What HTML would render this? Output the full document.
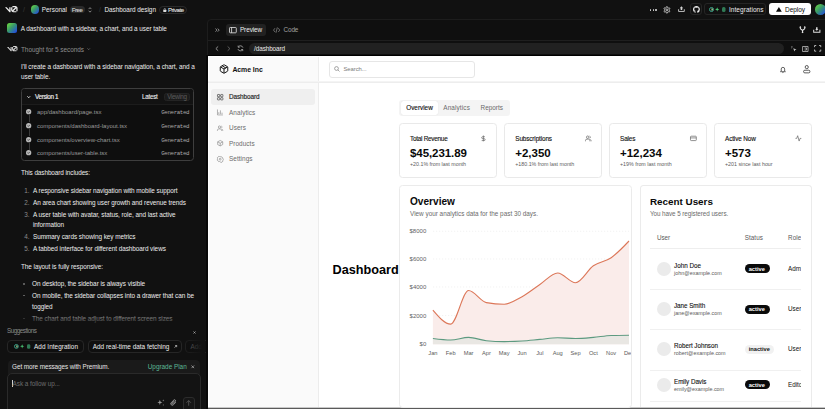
<!DOCTYPE html>
    <html><head><meta charset="utf-8"><style>
    html,body{margin:0;padding:0;}
    body{width:825px;height:409px;overflow:hidden;position:relative;background:#111111;font-family:"Liberation Sans",sans-serif;}
    .t{position:absolute;white-space:nowrap;}
    .b{position:absolute;}
    .i{position:absolute;overflow:visible;}
    </style></head><body>
    <svg class="i" style="left:4.8px;top:6.4px;color:#ededed" width="12.6" height="6.5" viewBox="0 0 40 20"><path fill="currentColor" d="M23.39 0H32.92C36.78 0 39.91 3.13 39.91 6.99V16.08H36V6.99C36 6.9 36 6.81 35.99 6.72L26.46 16.08C26.49 16.08 26.53 16.08 26.56 16.08H36V19.78H26.56C22.7 19.78 19.48 16.61 19.48 12.75V3.69H23.39V12.75C23.39 12.93 23.41 13.1 23.43 13.27L33.17 3.7C33.09 3.69 33 3.69 32.92 3.69H23.39V0Z"/><path fill="currentColor" d="M13.77 19.1L0 3.69H5.54L13.62 12.73V3.69H17.75V17.57C17.75 19.67 15.17 20.66 13.77 19.1Z"/></svg>
<div class="t" style="left:23px;top:5px;font-size:7px;line-height:9.1px;color:#3a3a3a;font-weight:400;">/</div>
<div class="b" style="left:30.6px;top:5.4px;width:8.80px;height:8.80px;border-radius:50%;background:linear-gradient(135deg,#6fe03a 0%,#3a9a6a 45%,#2040f5 100%)"></div>
<div class="t" style="left:41.8px;top:6px;font-size:6.4px;line-height:8.32px;color:#ededed;font-weight:400;letter-spacing:-0.008px;">Personal</div>
<div class="b" style="left:70px;top:6.1px;width:14.60px;height:7.10px;border-radius:4px;background:#2a2a2a"></div>
<div class="t" style="left:57.10px;width:40px;text-align:center;top:7px;font-size:6.0px;line-height:7.8px;color:#d5d5d5;font-weight:400;letter-spacing:-0.359px;-webkit-text-stroke:0.1px #d5d5d5">Free</div>
<svg class="i" style="left:88.2px;top:6.8px;" width="4" height="5.8" viewBox="0 0 8 12"><path d="M1.2 4.3L4 1.3L6.8 4.3M1.2 7.7L4 10.7L6.8 7.7" fill="none" stroke="#b0b0b0" stroke-width="1.5"/></svg>
<div class="t" style="left:99px;top:5px;font-size:7px;line-height:9.1px;color:#3a3a3a;font-weight:400;">/</div>
<div class="t" style="left:104.5px;top:6px;font-size:6.4px;line-height:8.32px;color:#ededed;font-weight:400;letter-spacing:-0.028px;">Dashboard design</div>
<div class="b" style="left:159px;top:5.5px;width:28.00px;height:8.50px;border-radius:5px;border:1px solid #2a2a2a;box-sizing:border-box"></div>
<svg class="i" style="left:162.8px;top:7.6px;" width="3.6" height="4.2" viewBox="0 0 6 7"><rect x="0.5" y="3" width="5" height="3.8" rx="0.6" fill="#dcdcdc"/><path d="M1.6 3.2V2.2a1.4 1.4 0 0 1 2.8 0v1" fill="none" stroke="#dcdcdc" stroke-width="0.9"/></svg>
<div class="t" style="left:167.9px;top:7px;font-size:6.0px;line-height:7.8px;color:#e0e0e0;font-weight:400;letter-spacing:-0.425px;-webkit-text-stroke:0.1px #e0e0e0">Private</div>
<div class="b" style="left:649.8000000000001px;top:9.0px;width:1.60px;height:1.60px;border-radius:50%;background:#cfcfcf"></div>
<div class="b" style="left:652.5px;top:9.0px;width:1.60px;height:1.60px;border-radius:50%;background:#cfcfcf"></div>
<div class="b" style="left:655.2px;top:9.0px;width:1.60px;height:1.60px;border-radius:50%;background:#cfcfcf"></div>
<svg class="i" style="left:663.3px;top:5.6px;" width="7.8" height="7.8" viewBox="0 0 24 24"><path fill="none" stroke="#dedede" stroke-width="2.6" d="M12.22 2h-.44a2 2 0 0 0-2 2v.18a2 2 0 0 1-1 1.73l-.43.25a2 2 0 0 1-2 0l-.15-.08a2 2 0 0 0-2.73.73l-.22.38a2 2 0 0 0 .73 2.73l.15.1a2 2 0 0 1 1 1.72v.51a2 2 0 0 1-1 1.74l-.15.09a2 2 0 0 0-.73 2.73l.22.38a2 2 0 0 0 2.73.73l.15-.08a2 2 0 0 1 2 0l.43.25a2 2 0 0 1 1 1.73V20a2 2 0 0 0 2 2h.44a2 2 0 0 0 2-2v-.18a2 2 0 0 1 1-1.73l.43-.25a2 2 0 0 1 2 0l.15.08a2 2 0 0 0 2.73-.73l.22-.39a2 2 0 0 0-.73-2.73l-.15-.08a2 2 0 0 1-1-1.74v-.5a2 2 0 0 1 1-1.74l.15-.09a2 2 0 0 0 .73-2.73l-.22-.38a2 2 0 0 0-2.73-.73l-.15.08a2 2 0 0 1-2 0l-.43-.25a2 2 0 0 1-1-1.73V4a2 2 0 0 0-2-2z"/><circle cx="12" cy="12" r="3" fill="none" stroke="#dedede" stroke-width="2.6"/></svg>
<svg class="i" style="left:677.9px;top:6.4px;" width="6.9" height="6.0" viewBox="0 0 14 12"><path d="M7 0.5L10.5 4.5H8.6V8H5.4V4.5H3.5Z" fill="#d0d0d0"/><path d="M1.2 6.5V11H12.8V6.5" fill="none" stroke="#d0d0d0" stroke-width="1.8"/></svg>
<div class="b" style="left:689.7px;top:3.3px;width:12.30px;height:12.20px;border-radius:3px;border:1px solid #252525;box-sizing:border-box"></div>
<svg class="i" style="left:692.5px;top:5.9px;" width="6.9" height="6.9" viewBox="0 0 16 16"><path fill="#ededed" d="M8 0C3.58 0 0 3.58 0 8c0 3.54 2.29 6.53 5.47 7.59.4.07.55-.17.55-.38 0-.19-.01-.82-.01-1.49-2.01.37-2.53-.49-2.69-.94-.09-.23-.48-.94-.82-1.13-.28-.15-.68-.52-.01-.53.63-.01 1.08.58 1.23.82.72 1.21 1.87.87 2.33.66.07-.52.28-.87.51-1.07-1.78-.2-3.64-.89-3.64-3.95 0-.87.31-1.59.82-2.15-.08-.2-.36-1.02.08-2.12 0 0 .67-.21 2.2.82.64-.18 1.32-.27 2-.27.68 0 1.36.09 2 .27 1.53-1.04 2.2-.82 2.2-.82.44 1.1.16 1.92.08 2.12.51.56.82 1.27.82 2.15 0 3.07-1.87 3.75-3.65 3.95.29.25.54.73.54 1.48 0 1.07-.01 1.93-.01 2.2 0 .21.15.46.55.38A8.013 8.013 0 0016 8c0-4.42-3.58-8-8-8z"/></svg>
<div class="b" style="left:704.4px;top:3.3px;width:61.70px;height:12.20px;border-radius:3px;border:1px solid #252525;box-sizing:border-box"></div>
<svg class="i" style="left:708.8px;top:7.0px;" width="5" height="5" viewBox="0 0 10 10"><circle cx="5" cy="5" r="4" fill="none" stroke="#3aa38a" stroke-width="2"/><path d="M5 2.5A2.5 2.5 0 0 1 5 7.5Z" fill="#bfe3a0"/></svg>
<svg class="i" style="left:715.1px;top:7.2px;" width="4.4" height="4.8" viewBox="0 0 10 10"><path d="M5 0L6.3 3.7 10 5 6.3 6.3 5 10 3.7 6.3 0 5 3.7 3.7Z" fill="#49c774"/></svg>
<svg class="i" style="left:721.7px;top:7.0px;" width="3.5" height="5.2" viewBox="0 0 7 10"><rect x="0" y="0" width="7" height="10" rx="3" fill="#2f7a55"/></svg>
<div class="t" style="left:729px;top:6px;font-size:6.5px;line-height:8.45px;color:#ededed;font-weight:400;letter-spacing:0.044px;">Integrations</div>
<div class="b" style="left:769px;top:3.3px;width:42.30px;height:12.20px;border-radius:3px;background:#ffffff"></div>
<svg class="i" style="left:775.9px;top:7.3px;" width="5.8" height="4.9" viewBox="0 0 12 10"><path d="M6 0L12 10H0Z" fill="#0a0a0a"/></svg>
<div class="t" style="left:785.1px;top:6px;font-size:6.5px;line-height:8.45px;color:#0a0a0a;font-weight:400;letter-spacing:-0.072px;">Deploy</div>
<div class="b" style="left:814.6px;top:4.1px;width:11.00px;height:11.00px;border-radius:50%;background:linear-gradient(135deg,#6fe03a 0%,#3a9a6a 45%,#2040f5 100%)"></div>
<div class="b" style="left:7px;top:23px;width:10.10px;height:10.30px;border-radius:2.5px;background:linear-gradient(135deg,#6fe03a 0%,#3a9a6a 45%,#2040f5 100%)"></div>
<div class="t" style="left:20.8px;top:25px;font-size:6.4px;line-height:8.32px;color:#ededed;font-weight:400;letter-spacing:-0.061px;">A dashboard with a sidebar, a chart, and a user table</div>
<svg class="i" style="left:7px;top:46.2px;color:#d8d8d8" width="10.5" height="5.4" viewBox="0 0 40 20"><path fill="currentColor" d="M23.39 0H32.92C36.78 0 39.91 3.13 39.91 6.99V16.08H36V6.99C36 6.9 36 6.81 35.99 6.72L26.46 16.08C26.49 16.08 26.53 16.08 26.56 16.08H36V19.78H26.56C22.7 19.78 19.48 16.61 19.48 12.75V3.69H23.39V12.75C23.39 12.93 23.41 13.1 23.43 13.27L33.17 3.7C33.09 3.69 33 3.69 32.92 3.69H23.39V0Z"/><path fill="currentColor" d="M13.77 19.1L0 3.69H5.54L13.62 12.73V3.69H17.75V17.57C17.75 19.67 15.17 20.66 13.77 19.1Z"/></svg>
<div class="t" style="left:21px;top:46px;font-size:6.4px;line-height:8.32px;color:#8f8f8f;font-weight:400;letter-spacing:-0.033px;">Thought for 5 seconds</div>
<svg class="i" style="left:87.4px;top:48px;" width="3.4" height="2.2" viewBox="0 0 6 4"><path d="M0.7 0.7L3 3L5.3 0.7" fill="none" stroke="#8f8f8f" stroke-width="1"/></svg>
<div class="t" style="left:21px;top:63px;font-size:6.4px;line-height:8.32px;color:#ededed;font-weight:400;letter-spacing:-0.057px;">I&#39;ll create a dashboard with a sidebar navigation, a chart, and a</div>
<div class="t" style="left:21px;top:73px;font-size:6.4px;line-height:8.32px;color:#ededed;font-weight:400;letter-spacing:-0.06px;">user table.</div>
<div class="b" style="left:20.6px;top:88.4px;width:173.30px;height:72.60px;border-radius:3.5px;border:1px solid #3e3e3e;box-sizing:border-box;background:#0e0e0e"></div>
<div class="b" style="left:21.6px;top:89.4px;width:171.30px;height:15.60px;border-radius:2.5px 2.5px 0 0;background:#121212;border-bottom:1px solid #1c1c1c;box-sizing:border-box"></div>
<svg class="i" style="left:27.1px;top:95.9px;" width="3.5" height="2.2" viewBox="0 0 6 4"><path d="M0.5 0.5L3 3.2L5.5 0.5" fill="none" stroke="#ededed" stroke-width="1.6"/></svg>
<div class="t" style="left:35px;top:93px;font-size:6.3px;line-height:8.19px;color:#ededed;font-weight:400;letter-spacing:-0.352px;-webkit-text-stroke:0.15px #ededed">Version 1</div>
<div class="t" style="left:142px;top:93px;font-size:6.3px;line-height:8.19px;color:#ededed;font-weight:400;letter-spacing:-0.260px;-webkit-text-stroke:0.1px #ededed">Latest</div>
<div class="b" style="left:164.1px;top:92.5px;width:25.60px;height:8.50px;border-radius:2.5px;background:#1b1b1b;border:1px solid #242424;box-sizing:border-box"></div>
<div class="t" style="left:156.90px;width:40px;text-align:center;top:93px;font-size:6.3px;line-height:8.19px;color:#5c5c5c;font-weight:400;letter-spacing:-0.378px;">Viewing</div>
<div class="b" style="left:28.6px;top:115.10000000000001px;width:0.70px;height:7.30px;background:#3a3a3a"></div>
<svg class="i" style="left:26.2px;top:109.25px;" width="5.3" height="5.3" viewBox="0 0 10 10"><circle cx="5" cy="5" r="5" fill="#b8b8b8"/><path d="M2.9 5.1L4.4 6.5L7.1 3.6" fill="none" stroke="#111" stroke-width="1.2"/></svg>
<div class="t" style="left:37px;top:109px;font-size:6.0px;line-height:7.8px;color:#9a9a9a;font-weight:400;">app/dashboard/page.tsx</div>
<div class="t" style="right:635.80px;top:109px;font-size:5.8px;line-height:7.54px;color:#a8a8a8;font-weight:400;font-family:'Liberation Mono',monospace;letter-spacing:-0.37px;">Generated</div>
<div class="b" style="left:28.6px;top:128.79999999999998px;width:0.70px;height:7.30px;background:#3a3a3a"></div>
<svg class="i" style="left:26.2px;top:122.94999999999999px;" width="5.3" height="5.3" viewBox="0 0 10 10"><circle cx="5" cy="5" r="5" fill="#b8b8b8"/><path d="M2.9 5.1L4.4 6.5L7.1 3.6" fill="none" stroke="#111" stroke-width="1.2"/></svg>
<div class="t" style="left:37px;top:123px;font-size:6.0px;line-height:7.8px;color:#9a9a9a;font-weight:400;">components/dashboard-layout.tsx</div>
<div class="t" style="right:635.80px;top:123px;font-size:5.8px;line-height:7.54px;color:#a8a8a8;font-weight:400;font-family:'Liberation Mono',monospace;letter-spacing:-0.37px;">Generated</div>
<div class="b" style="left:28.6px;top:142.5px;width:0.70px;height:7.30px;background:#3a3a3a"></div>
<svg class="i" style="left:26.2px;top:136.65px;" width="5.3" height="5.3" viewBox="0 0 10 10"><circle cx="5" cy="5" r="5" fill="#b8b8b8"/><path d="M2.9 5.1L4.4 6.5L7.1 3.6" fill="none" stroke="#111" stroke-width="1.2"/></svg>
<div class="t" style="left:37px;top:137px;font-size:6.0px;line-height:7.8px;color:#9a9a9a;font-weight:400;">components/overview-chart.tsx</div>
<div class="t" style="right:635.80px;top:137px;font-size:5.8px;line-height:7.54px;color:#a8a8a8;font-weight:400;font-family:'Liberation Mono',monospace;letter-spacing:-0.37px;">Generated</div>
<svg class="i" style="left:26.2px;top:150.35px;" width="5.3" height="5.3" viewBox="0 0 10 10"><circle cx="5" cy="5" r="5" fill="#b8b8b8"/><path d="M2.9 5.1L4.4 6.5L7.1 3.6" fill="none" stroke="#111" stroke-width="1.2"/></svg>
<div class="t" style="left:37px;top:150px;font-size:6.0px;line-height:7.8px;color:#9a9a9a;font-weight:400;">components/user-table.tsx</div>
<div class="t" style="right:635.80px;top:150px;font-size:5.8px;line-height:7.54px;color:#a8a8a8;font-weight:400;font-family:'Liberation Mono',monospace;letter-spacing:-0.37px;">Generated</div>
<div class="t" style="left:21px;top:169px;font-size:6.4px;line-height:8.32px;color:#ededed;font-weight:400;letter-spacing:-0.090px;">This dashboard includes:</div>
<div class="t" style="left:24.3px;top:187px;font-size:6.4px;line-height:8.32px;color:#8a8a8a;font-weight:400;">1.</div>
<div class="t" style="left:33px;top:187px;font-size:6.4px;line-height:8.32px;color:#ededed;font-weight:400;letter-spacing:-0.05px;">A responsive sidebar navigation with mobile support</div>
<div class="t" style="left:24.3px;top:199px;font-size:6.4px;line-height:8.32px;color:#8a8a8a;font-weight:400;">2.</div>
<div class="t" style="left:33px;top:199px;font-size:6.4px;line-height:8.32px;color:#ededed;font-weight:400;letter-spacing:-0.05px;">An area chart showing user growth and revenue trends</div>
<div class="t" style="left:24.3px;top:211px;font-size:6.4px;line-height:8.32px;color:#8a8a8a;font-weight:400;">3.</div>
<div class="t" style="left:33px;top:211px;font-size:6.4px;line-height:8.32px;color:#ededed;font-weight:400;letter-spacing:-0.05px;">A user table with avatar, status, role, and last active</div>
<div class="t" style="left:33px;top:221px;font-size:6.4px;line-height:8.32px;color:#ededed;font-weight:400;letter-spacing:-0.05px;">information</div>
<div class="t" style="left:24.3px;top:233px;font-size:6.4px;line-height:8.32px;color:#8a8a8a;font-weight:400;">4.</div>
<div class="t" style="left:33px;top:233px;font-size:6.4px;line-height:8.32px;color:#ededed;font-weight:400;letter-spacing:-0.05px;">Summary cards showing key metrics</div>
<div class="t" style="left:24.3px;top:245px;font-size:6.4px;line-height:8.32px;color:#8a8a8a;font-weight:400;">5.</div>
<div class="t" style="left:33px;top:245px;font-size:6.4px;line-height:8.32px;color:#ededed;font-weight:400;letter-spacing:-0.05px;">A tabbed interface for different dashboard views</div>
<div class="t" style="left:21px;top:263px;font-size:6.4px;line-height:8.32px;color:#ededed;font-weight:400;letter-spacing:-0.06px;">The layout is fully responsive:</div>
<div class="b" style="left:23.3px;top:283.15px;width:1.60px;height:1.60px;border-radius:50%;background:#6a6a6a"></div>
<div class="t" style="left:32px;top:280px;font-size:6.4px;line-height:8.32px;color:#ededed;font-weight:400;letter-spacing:-0.05px;">On desktop, the sidebar is always visible</div>
<div class="b" style="left:23.3px;top:294.9px;width:1.60px;height:1.60px;border-radius:50%;background:#6a6a6a"></div>
<div class="t" style="left:32px;top:292px;font-size:6.4px;line-height:8.32px;color:#ededed;font-weight:400;letter-spacing:-0.05px;">On mobile, the sidebar collapses into a drawer that can be</div>
<div class="t" style="left:32px;top:303px;font-size:6.4px;line-height:8.32px;color:#ededed;font-weight:400;letter-spacing:-0.05px;">toggled</div>
<div class="b" style="left:23.3px;top:317.65px;width:1.60px;height:1.60px;border-radius:50%;background:#6a6a6a"></div>
<div class="t" style="left:32px;top:315px;font-size:6.4px;line-height:8.32px;color:#ededed;font-weight:400;letter-spacing:-0.05px;">The chart and table adjust to different screen sizes</div>
<div class="b" style="left:0px;top:310px;width:205.00px;height:16.00px;background:linear-gradient(to bottom,rgba(17,17,17,0) 0%,rgba(17,17,17,0.55) 50%,#111 100%)"></div>
<div class="b" style="left:0px;top:326px;width:205.00px;height:83.00px;background:#111"></div>
<div class="t" style="left:6.9px;top:327px;font-size:6.3px;line-height:8.19px;color:#8a8a8a;font-weight:400;letter-spacing:-0.461px;">Suggestions</div>
<svg class="i" style="left:193.2px;top:330.6px;" width="3" height="3" viewBox="0 0 6 6"><path d="M0.8 0.8L5.2 5.2M5.2 0.8L0.8 5.2" stroke="#cfcfcf" stroke-width="1.1"/></svg>
<div class="b" style="left:7.25px;top:340.25px;width:76.25px;height:12.50px;border-radius:4px;border:1px solid #262626;box-sizing:border-box;background:#0f0f0f"></div>
<svg class="i" style="left:14px;top:344.1px;" width="4.8" height="4.8" viewBox="0 0 10 10"><circle cx="5" cy="5" r="4" fill="none" stroke="#3aa38a" stroke-width="2"/><path d="M5 2.5A2.5 2.5 0 0 1 5 7.5Z" fill="#bfe3a0"/></svg>
<svg class="i" style="left:20.4px;top:344.2px;" width="4.3" height="4.6" viewBox="0 0 10 10"><path d="M5 0L6.3 3.7 10 5 6.3 6.3 5 10 3.7 6.3 0 5 3.7 3.7Z" fill="#49c774"/></svg>
<svg class="i" style="left:26.8px;top:344px;" width="3.3" height="5" viewBox="0 0 7 10"><rect x="0" y="0" width="7" height="10" rx="3" fill="#2f7a55"/></svg>
<div class="t" style="left:34px;top:343px;font-size:6.4px;line-height:8.32px;color:#ededed;font-weight:400;letter-spacing:0.046px;">Add Integration</div>
<div class="b" style="left:87.5px;top:340.25px;width:94.25px;height:12.50px;border-radius:4px;border:1px solid #262626;box-sizing:border-box;background:#0f0f0f"></div>
<div class="t" style="left:92.75px;top:343px;font-size:6.4px;line-height:8.32px;color:#ededed;font-weight:400;letter-spacing:0.010px;">Add real-time data fetching</div>
<svg class="i" style="left:173.6px;top:344.9px;" width="3.2" height="3.2" viewBox="0 0 6 6"><path d="M1 5L5 1M2 1H5V4" fill="none" stroke="#ededed" stroke-width="1.1"/></svg>
<div class="b" style="left:184.9px;top:340.25px;width:30.10px;height:12.50px;border-radius:4px;border:1px solid #1f1f1f;box-sizing:border-box;background:#0f0f0f"></div>
<div class="t" style="left:190.5px;top:343px;font-size:6.4px;line-height:8.32px;color:#6a6a6a;font-weight:400;">Add</div>
<div class="b" style="left:186px;top:338px;width:19.00px;height:17.00px;background:linear-gradient(to right,rgba(17,17,17,0),#111 85%)"></div>
<div class="b" style="left:7.75px;top:360px;width:192.50px;height:20.00px;border-radius:4.5px 4.5px 0 0;background:#1a1a1a"></div>
<div class="t" style="left:12.1px;top:363px;font-size:6.4px;line-height:8.32px;color:#e5e5e5;font-weight:400;letter-spacing:-0.090px;">Get more messages with Premium.</div>
<div class="t" style="left:147.75px;top:363px;font-size:6.4px;line-height:8.32px;color:#5cb896;font-weight:400;letter-spacing:-0.012px;">Upgrade Plan</div>
<svg class="i" style="left:191.1px;top:364.7px;" width="3.6" height="3.6" viewBox="0 0 6 6"><path d="M0.8 0.8L5.2 5.2M5.2 0.8L0.8 5.2" stroke="#bdbdbd" stroke-width="1.1"/></svg>
<div class="b" style="left:7.25px;top:373.25px;width:193.25px;height:46.75px;border-radius:5px;border:1px solid #2a2a2a;box-sizing:border-box;background:#131313"></div>
<div class="b" style="left:12.1px;top:379.8px;width:0.60px;height:7.00px;background:#cfcfcf"></div>
<div class="t" style="left:12.6px;top:380px;font-size:6.4px;line-height:8.32px;color:#6e6e6e;font-weight:400;letter-spacing:-0.06px;">Ask a follow up...</div>
<svg class="i" style="left:156.6px;top:399.3px;" width="8" height="7.4" viewBox="0 0 14 13"><path d="M5 1.5L6.2 4.8 9.5 6 6.2 7.2 5 10.5 3.8 7.2 0.5 6 3.8 4.8Z" fill="#9a9a9a"/><path d="M11 0.5L11.5 2 13 2.5 11.5 3 11 4.5 10.5 3 9 2.5 10.5 2Z M11 9L11.4 10.1 12.5 10.5 11.4 10.9 11 12 10.6 10.9 9.5 10.5 10.6 10.1Z" fill="#8a8a8a"/></svg>
<svg class="i" style="left:169.9px;top:399.2px;" width="6.9" height="7.4" viewBox="0 0 14 15"><path d="M12 6.5L6.8 11.7A3 3 0 0 1 2.5 7.4L8 1.9A2 2 0 0 1 10.8 4.7L5.5 10A1 1 0 0 1 4.1 8.6L9 3.7" fill="none" stroke="#b5b5b5" stroke-width="1.6"/></svg>
<div class="b" style="left:183px;top:397.4px;width:12.00px;height:22.60px;border-radius:3px;border:1px solid #2c2c2c;box-sizing:border-box;background:#161616"></div>
<svg class="i" style="left:186.3px;top:400.3px;" width="5.4" height="6" viewBox="0 0 10 11"><path d="M5 10.5V1M1 5L5 1 9 5" fill="none" stroke="#6a6a6a" stroke-width="1.3"/></svg>
<div class="b" style="left:207px;top:19px;width:633.00px;height:401.00px;border-radius:4px 0 0 0;border:1px solid #1d1d1d;box-sizing:border-box;background:#0f0f0f"></div>
<svg class="i" style="left:214.9px;top:27.6px;" width="4.9" height="4.2" viewBox="0 0 10 8"><path d="M1 0.8L4 4L1 7.2M5.5 0.8L8.5 4L5.5 7.2" fill="none" stroke="#b5b5b5" stroke-width="1.5"/></svg>
<div class="b" style="left:226.2px;top:24px;width:39.40px;height:11.80px;border-radius:3px;background:#212121"></div>
<svg class="i" style="left:229px;top:26.7px;" width="7.8" height="6.3" viewBox="0 0 16 13"><rect x="1" y="1" width="14" height="11" rx="1.5" fill="none" stroke="#ededed" stroke-width="1.6"/><path d="M5.3 1V12" stroke="#ededed" stroke-width="1.6"/></svg>
<div class="t" style="left:239.9px;top:26px;font-size:6.4px;line-height:8.32px;color:#ededed;font-weight:400;letter-spacing:-0.066px;">Preview</div>
<svg class="i" style="left:272.9px;top:26.8px;" width="7.3" height="6.2" viewBox="0 0 15 13"><path d="M4 2.5L1 6.5 4 10.5M11 2.5L14 6.5 11 10.5M9 0.8L6 12.2" fill="none" stroke="#a1a1a1" stroke-width="1.3"/></svg>
<div class="t" style="left:283.5px;top:26px;font-size:6.4px;line-height:8.32px;color:#a1a1a1;font-weight:400;letter-spacing:-0.125px;">Code</div>
<svg class="i" style="left:799.2px;top:26.2px;" width="7.1" height="7.4" viewBox="0 0 14 15"><path d="M2.5 1.2V4.5C2.5 7 7 7.5 7 10V14M11.5 1.2V4.5C11.5 7 7 7.5 7 10" fill="none" stroke="#e0e0e0" stroke-width="2.3"/><path d="M0.3 2.8L2.5 0.3 4.7 2.8ZM9.3 2.8L11.5 0.3 13.7 2.8ZM4.8 12.2L7 14.7 9.2 12.2Z" fill="#e0e0e0"/></svg>
<svg class="i" style="left:812.7px;top:27.3px;" width="7.6" height="5.8" viewBox="0 0 14 11"><path d="M7 7L10 3.6H8.4V0.3H5.6V3.6H4Z" fill="#e0e0e0"/><path d="M1.1 5V9.9H12.9V5" fill="none" stroke="#e0e0e0" stroke-width="1.9"/></svg>
<div class="b" style="left:208px;top:40px;width:632.00px;height:1.00px;background:#1f1f1f"></div>
<svg class="i" style="left:214.6px;top:45.9px;" width="3.8" height="5.2" viewBox="0 0 6 8"><path d="M5 0.6L1.4 4L5 7.4" fill="none" stroke="#a8a8a8" stroke-width="1.3"/></svg>
<svg class="i" style="left:226.7px;top:45.9px;" width="3.8" height="5.2" viewBox="0 0 6 8"><path d="M1 0.6L4.6 4L1 7.4" fill="none" stroke="#6e6e6e" stroke-width="1.3"/></svg>
<svg class="i" style="left:237.1px;top:45.2px;" width="6.9" height="6.7" viewBox="0 0 14 14"><path d="M12.2 5.5A5.3 5.3 0 0 0 2.6 4.2M1.8 8.5A5.3 5.3 0 0 0 11.4 9.8" fill="none" stroke="#bdbdbd" stroke-width="1.5"/><path d="M2.2 1.2V4.6H5.6M11.8 12.8V9.4H8.4" fill="none" stroke="#bdbdbd" stroke-width="1.5"/></svg>
<div class="b" style="left:249.2px;top:42.7px;width:534.70px;height:11.30px;border-radius:6px;background:#212121"></div>
<div class="t" style="left:254.1px;top:45px;font-size:6.4px;line-height:8.32px;color:#ededed;font-weight:400;letter-spacing:-0.113px;">/dashboard</div>
<svg class="i" style="left:790.9px;top:45.5px;" width="5.8" height="5.8" viewBox="0 0 12 12"><path d="M4.5 4.5L11.5 7.2 8.5 8.5 7.2 11.5Z" fill="#bdbdbd"/><path d="M2 0.5V3M0.5 2H3M0.8 4.5L2.2 4" stroke="#bdbdbd" stroke-width="1"/></svg>
<svg class="i" style="left:801.9px;top:45.5px;" width="6.6" height="6.0" viewBox="0 0 13 12"><path d="M1 1H12V11H1Z M5 4H9V8H5" fill="none" stroke="#bdbdbd" stroke-width="1.6"/></svg>
<svg class="i" style="left:813.7px;top:45px;" width="7.3" height="6.7" viewBox="0 0 14 13"><path d="M1 4.2V1H4.2M9.8 1H13V4.2M13 8.8V12H9.8M4.2 12H1V8.8" fill="none" stroke="#bdbdbd" stroke-width="1.8"/></svg>
<div class="b" style="left:208px;top:55px;width:632.00px;height:1.00px;background:#000"></div>
<div class="b" style="left:206px;top:55px;width:2.00px;height:354.00px;background:#080808"></div>
<div class="b" style="left:208px;top:56px;width:617.00px;height:352.00px;background:#ffffff"></div>
<div class="b" style="left:209px;top:57px;width:109.00px;height:350.00px;background:#fafafa"></div>
<div class="b" style="left:318px;top:57px;width:1.00px;height:350.00px;background:#ececec"></div>
<div class="b" style="left:208px;top:81px;width:617.00px;height:1.00px;background:#f4f4f4"></div>
<div class="b" style="left:208px;top:82px;width:617.00px;height:1.00px;background:#ededed"></div>
<div class="b" style="left:208px;top:407px;width:617.00px;height:1.00px;background:#c8c8c8"></div>
<div class="b" style="left:208px;top:408px;width:617.00px;height:1.00px;background:#5a5a5a"></div>
<svg class="i" style="left:218.6px;top:63.9px;" width="10" height="10" viewBox="0 0 24 24"><path d="M21 8a2 2 0 0 0-1-1.73l-7-4a2 2 0 0 0-2 0l-7 4A2 2 0 0 0 3 8v8a2 2 0 0 0 1 1.73l7 4a2 2 0 0 0 2 0l7-4A2 2 0 0 0 21 16Z M3.3 7l8.7 5 8.7-5 M12 22V12 M7.5 4.3l9 5.2" fill="none" stroke="#111" stroke-width="2.4" stroke-linejoin="round"/></svg>
<div class="t" style="left:232.4px;top:66px;font-size:6.9px;line-height:8.97px;color:#111;font-weight:700;letter-spacing:-0.041px;">Acme Inc</div>
<div class="b" style="left:211.1px;top:89px;width:103.90px;height:15.50px;border-radius:3px;background:#efefef"></div>
<svg class="i" style="left:216.6px;top:93.7px;" width="6.4" height="6.4" viewBox="0 0 14 14"><g fill="none" stroke="#333" stroke-width="1.4"><rect x="1" y="1" width="5" height="5" rx="1.2"/><rect x="8" y="1" width="5" height="5" rx="1.2"/><rect x="1" y="8" width="5" height="5" rx="1.2"/><rect x="8" y="8" width="5" height="5" rx="1.2"/></g></svg>
<div class="t" style="left:229px;top:93px;font-size:6.4px;line-height:8.32px;color:#222;font-weight:400;letter-spacing:-0.090px;-webkit-text-stroke:0.15px #222">Dashboard</div>
<svg class="i" style="left:216.6px;top:109.1px;" width="6.4" height="6.4" viewBox="0 0 14 14"><g fill="none" stroke="#888" stroke-width="1.4"><path d="M1 1V13H13M4 11V7M7.5 11V3M11 11V8"/></g></svg>
<div class="t" style="left:229px;top:109px;font-size:6.4px;line-height:8.32px;color:#6b6b6b;font-weight:400;letter-spacing:0.088px;">Analytics</div>
<svg class="i" style="left:216.6px;top:124.8px;" width="6.4" height="6.4" viewBox="0 0 14 14"><g fill="none" stroke="#888" stroke-width="1.4"><circle cx="5.5" cy="4.5" r="2.5"/><path d="M1 13V11.5A3 3 0 0 1 4 8.5H7A3 3 0 0 1 10 11.5V13M9.5 2.2A2.5 2.5 0 0 1 9.5 6.8M12.5 13V11.5A3 3 0 0 0 11 9"/></g></svg>
<div class="t" style="left:229px;top:124px;font-size:6.4px;line-height:8.32px;color:#6b6b6b;font-weight:400;letter-spacing:0.06px;">Users</div>
<svg class="i" style="left:216.6px;top:140.3px;" width="6.4" height="6.4" viewBox="0 0 14 14"><g fill="none" stroke="#888" stroke-width="1.4"><path d="M7 1L12.5 4V10L7 13L1.5 10V4Z M1.5 4L7 7L12.5 4 M7 7V13"/></g></svg>
<div class="t" style="left:229px;top:140px;font-size:6.4px;line-height:8.32px;color:#6b6b6b;font-weight:400;letter-spacing:0.06px;">Products</div>
<svg class="i" style="left:216.6px;top:155.70000000000002px;" width="6.4" height="6.4" viewBox="0 0 14 14"><g fill="none" stroke="#888" stroke-width="1.4"><path d="M7 1l1.6 1 1.9-.2.9 1.7 1.7.9-.2 1.9 1 1.6-1 1.6.2 1.9-1.7.9-.9 1.7-1.9-.2L7 13l-1.6-1-1.9.2-.9-1.7-1.7-.9.2-1.9L0.1 7l1-1.6-.2-1.9 1.7-.9.9-1.7 1.9.2z"/><circle cx="7" cy="7" r="2"/></g></svg>
<div class="t" style="left:229px;top:155px;font-size:6.4px;line-height:8.32px;color:#6b6b6b;font-weight:400;letter-spacing:0.06px;">Settings</div>
<div class="b" style="left:329px;top:60.5px;width:145.75px;height:17.50px;border-radius:3px;border:1px solid #e6e6e6;box-sizing:border-box;background:#fff"></div>
<svg class="i" style="left:333.8px;top:65.6px;" width="6" height="6" viewBox="0 0 12 12"><circle cx="5" cy="5" r="3.8" fill="none" stroke="#777" stroke-width="1.3"/><path d="M7.8 7.8L11 11" stroke="#777" stroke-width="1.3"/></svg>
<div class="t" style="left:343.5px;top:66px;font-size:5.9px;line-height:7.67px;color:#7a7a7a;font-weight:400;letter-spacing:-0.068px;">Search...</div>
<svg class="i" style="left:779.7px;top:65.6px;" width="5.9" height="7.1" viewBox="0 0 12 14"><path d="M2.5 10V6A3.5 3.5 0 0 1 9.5 6V10L11 11.3H1L2.5 10Z M4.8 12.8A1.4 1.4 0 0 0 7.2 12.8" fill="none" stroke="#111" stroke-width="1.3" stroke-linejoin="round"/></svg>
<svg class="i" style="left:803.1px;top:65.1px;" width="7.5" height="8.4" viewBox="0 0 14 16"><circle cx="7" cy="4" r="3" fill="none" stroke="#222" stroke-width="1.4"/><rect x="1" y="10" width="12" height="5" rx="2.3" fill="none" stroke="#222" stroke-width="1.4"/></svg>
<div class="t" style="left:332.5px;top:262px;font-size:12.68px;line-height:16.48px;color:#000;font-weight:700;">Dashboard</div>
<div class="b" style="left:399.25px;top:99.5px;width:110.75px;height:16.75px;border-radius:3px;background:#f4f4f4"></div>
<div class="b" style="left:400.5px;top:101.25px;width:37.75px;height:13.75px;border-radius:2.5px;background:#fff;box-shadow:0 0 1px rgba(0,0,0,0.15)"></div>
<div class="t" style="left:406.2px;top:104px;font-size:6.4px;line-height:8.32px;color:#111;font-weight:400;letter-spacing:-0.009px;-webkit-text-stroke:0.12px #111">Overview</div>
<div class="t" style="left:443.25px;top:104px;font-size:6.4px;line-height:8.32px;color:#6b6b6b;font-weight:400;letter-spacing:0.127px;">Analytics</div>
<div class="t" style="left:480.5px;top:104px;font-size:6.4px;line-height:8.32px;color:#6b6b6b;font-weight:400;letter-spacing:0.013px;">Reports</div>
<div class="b" style="left:399px;top:123.25px;width:98.00px;height:55.00px;border-radius:3.5px;border:1px solid #e9e9e9;box-sizing:border-box;background:#fff"></div>
<div class="t" style="left:410px;top:135px;font-size:6.4px;line-height:8.32px;color:#111;font-weight:400;letter-spacing:-0.263px;-webkit-text-stroke:0.12px #111">Total Revenue</div>
<div class="t" style="left:410px;top:146px;font-size:11.5px;line-height:14.95px;color:#0a0a0a;font-weight:700;letter-spacing:-0.076px;">$45,231.89</div>
<div class="t" style="left:410px;top:161px;font-size:5.3px;line-height:6.89px;color:#5c5c5c;font-weight:400;letter-spacing:-0.005px;">+20.1% from last month</div>
<svg class="i" style="left:480px;top:135.4px;" width="6.8" height="6.8" viewBox="0 0 14 14"><g fill="none" stroke="#707070" stroke-width="1.6"><path d="M7 1V13M10 3.5H5.5A2 2 0 0 0 5.5 7.5H8.5A2 2 0 0 1 8.5 11.5H3.5"/></g></svg>
<div class="b" style="left:504.25px;top:123.25px;width:97.55px;height:55.00px;border-radius:3.5px;border:1px solid #e9e9e9;box-sizing:border-box;background:#fff"></div>
<div class="t" style="left:515.25px;top:135px;font-size:6.4px;line-height:8.32px;color:#111;font-weight:400;letter-spacing:-0.13px;-webkit-text-stroke:0.12px #111">Subscriptions</div>
<div class="t" style="left:515.25px;top:146px;font-size:11.5px;line-height:14.95px;color:#0a0a0a;font-weight:700;">+2,350</div>
<div class="t" style="left:515.25px;top:161px;font-size:5.3px;line-height:6.89px;color:#5c5c5c;font-weight:400;">+180.1% from last month</div>
<svg class="i" style="left:584.8px;top:135.4px;" width="6.8" height="6.8" viewBox="0 0 14 14"><g fill="none" stroke="#707070" stroke-width="1.6"><circle cx="5.5" cy="4.5" r="2.5"/><path d="M1 13V11.5A3 3 0 0 1 4 8.5H7A3 3 0 0 1 10 11.5V13M9.5 2.2A2.5 2.5 0 0 1 9.5 6.8M12.5 13V11.5A3 3 0 0 0 11 9"/></g></svg>
<div class="b" style="left:609px;top:123.25px;width:98.00px;height:55.00px;border-radius:3.5px;border:1px solid #e9e9e9;box-sizing:border-box;background:#fff"></div>
<div class="t" style="left:620px;top:135px;font-size:6.4px;line-height:8.32px;color:#111;font-weight:400;letter-spacing:-0.13px;-webkit-text-stroke:0.12px #111">Sales</div>
<div class="t" style="left:620px;top:146px;font-size:11.5px;line-height:14.95px;color:#0a0a0a;font-weight:700;">+12,234</div>
<div class="t" style="left:620px;top:161px;font-size:5.3px;line-height:6.89px;color:#5c5c5c;font-weight:400;">+19% from last month</div>
<svg class="i" style="left:690px;top:135.4px;" width="6.8" height="6.8" viewBox="0 0 14 14"><g fill="none" stroke="#707070" stroke-width="1.6"><rect x="1" y="2.5" width="12" height="9" rx="1.5"/><path d="M1 6H13"/></g></svg>
<div class="b" style="left:714px;top:123.25px;width:98.00px;height:55.00px;border-radius:3.5px;border:1px solid #e9e9e9;box-sizing:border-box;background:#fff"></div>
<div class="t" style="left:725px;top:135px;font-size:6.4px;line-height:8.32px;color:#111;font-weight:400;letter-spacing:-0.13px;-webkit-text-stroke:0.12px #111">Active Now</div>
<div class="t" style="left:725px;top:146px;font-size:11.5px;line-height:14.95px;color:#0a0a0a;font-weight:700;">+573</div>
<div class="t" style="left:725px;top:161px;font-size:5.3px;line-height:6.89px;color:#5c5c5c;font-weight:400;">+201 since last hour</div>
<svg class="i" style="left:795px;top:135.4px;" width="6.8" height="6.8" viewBox="0 0 14 14"><g fill="none" stroke="#707070" stroke-width="1.6"><path d="M13 7H10.5L8.5 12.5L5.5 1.5L3.5 7H1"/></g></svg>
<div class="b" style="left:399.25px;top:185px;width:232.25px;height:223px;border-radius:3.5px;border:1px solid #ebebeb;box-sizing:border-box;background:#fff;overflow:hidden"><svg class="i" style="left:-400.25px;top:-186px" width="825" height="409" viewBox="0 0 825 409"><line x1="433" y1="231.3" x2="629" y2="231.3" stroke="#ededed" stroke-width="0.7" stroke-dasharray="1.2 1.8"/><line x1="433" y1="259" x2="629" y2="259" stroke="#ededed" stroke-width="0.7" stroke-dasharray="1.2 1.8"/><line x1="433" y1="287" x2="629" y2="287" stroke="#ededed" stroke-width="0.7" stroke-dasharray="1.2 1.8"/><line x1="433" y1="315.5" x2="629" y2="315.5" stroke="#ededed" stroke-width="0.7" stroke-dasharray="1.2 1.8"/><path d="M432.90,310.10C438.84,317.10 444.78,324.10 450.73,324.10C456.67,324.10 462.61,290.50 468.55,290.50C474.50,290.50 480.44,301.53 486.38,302.60C492.32,303.67 498.27,304.20 504.21,304.20C510.15,304.20 516.09,299.98 522.04,296.70C527.98,293.42 533.92,288.45 539.86,284.50C545.81,280.55 551.75,273.00 557.69,273.00C563.63,273.00 569.58,282.70 575.52,282.70C581.46,282.70 587.40,269.87 593.35,265.70C599.29,261.53 605.23,261.82 611.17,257.70C617.12,253.58 623.06,247.29 629.00,241.00L629.00,344.3L432.90,344.3Z" fill="#faecea"/><path d="M432.90,338.50C438.84,339.25 444.78,340.00 450.73,340.00C456.67,340.00 462.61,337.40 468.55,337.40C474.50,337.40 480.44,340.10 486.38,340.70C492.32,341.30 498.27,341.60 504.21,341.60C510.15,341.60 516.09,341.37 522.04,341.00C527.98,340.63 533.92,339.93 539.86,339.40C545.81,338.87 551.75,337.80 557.69,337.80C563.63,337.80 569.58,338.50 575.52,338.50C581.46,338.50 587.40,337.90 593.35,337.40C599.29,336.90 605.23,335.70 611.17,335.50C617.12,335.30 623.06,335.25 629.00,335.20L629.00,344.3L432.90,344.3Z" fill="#e9e7e3"/><path d="M432.90,310.10C438.84,317.10 444.78,324.10 450.73,324.10C456.67,324.10 462.61,290.50 468.55,290.50C474.50,290.50 480.44,301.53 486.38,302.60C492.32,303.67 498.27,304.20 504.21,304.20C510.15,304.20 516.09,299.98 522.04,296.70C527.98,293.42 533.92,288.45 539.86,284.50C545.81,280.55 551.75,273.00 557.69,273.00C563.63,273.00 569.58,282.70 575.52,282.70C581.46,282.70 587.40,269.87 593.35,265.70C599.29,261.53 605.23,261.82 611.17,257.70C617.12,253.58 623.06,247.29 629.00,241.00" fill="none" stroke="#dc7759" stroke-width="1.1"/><path d="M432.90,338.50C438.84,339.25 444.78,340.00 450.73,340.00C456.67,340.00 462.61,337.40 468.55,337.40C474.50,337.40 480.44,340.10 486.38,340.70C492.32,341.30 498.27,341.60 504.21,341.60C510.15,341.60 516.09,341.37 522.04,341.00C527.98,340.63 533.92,339.93 539.86,339.40C545.81,338.87 551.75,337.80 557.69,337.80C563.63,337.80 569.58,338.50 575.52,338.50C581.46,338.50 587.40,337.90 593.35,337.40C599.29,336.90 605.23,335.70 611.17,335.50C617.12,335.30 623.06,335.25 629.00,335.20" fill="none" stroke="#5d9a80" stroke-width="1.1"/></svg><div class="t" style="left:12.65px;width:40px;text-align:center;top:164.20px;font-size:5.7px;line-height:7.4px;color:#5a5a5a">Jan</div><div class="t" style="left:30.48px;width:40px;text-align:center;top:164.20px;font-size:5.7px;line-height:7.4px;color:#5a5a5a">Feb</div><div class="t" style="left:48.30px;width:40px;text-align:center;top:164.20px;font-size:5.7px;line-height:7.4px;color:#5a5a5a">Mar</div><div class="t" style="left:66.13px;width:40px;text-align:center;top:164.20px;font-size:5.7px;line-height:7.4px;color:#5a5a5a">Apr</div><div class="t" style="left:83.96px;width:40px;text-align:center;top:164.20px;font-size:5.7px;line-height:7.4px;color:#5a5a5a">May</div><div class="t" style="left:101.79px;width:40px;text-align:center;top:164.20px;font-size:5.7px;line-height:7.4px;color:#5a5a5a">Jun</div><div class="t" style="left:119.61px;width:40px;text-align:center;top:164.20px;font-size:5.7px;line-height:7.4px;color:#5a5a5a">Jul</div><div class="t" style="left:137.44px;width:40px;text-align:center;top:164.20px;font-size:5.7px;line-height:7.4px;color:#5a5a5a">Aug</div><div class="t" style="left:155.27px;width:40px;text-align:center;top:164.20px;font-size:5.7px;line-height:7.4px;color:#5a5a5a">Sep</div><div class="t" style="left:173.10px;width:40px;text-align:center;top:164.20px;font-size:5.7px;line-height:7.4px;color:#5a5a5a">Oct</div><div class="t" style="left:190.92px;width:40px;text-align:center;top:164.20px;font-size:5.7px;line-height:7.4px;color:#5a5a5a">Nov</div><div class="t" style="left:208.75px;width:40px;text-align:center;top:164.20px;font-size:5.7px;line-height:7.4px;color:#5a5a5a">Dec</div></div>
<div class="t" style="left:410px;top:195px;font-size:10.1px;line-height:13.13px;color:#0a0a0a;font-weight:700;letter-spacing:0.010px;">Overview</div>
<div class="t" style="left:410px;top:210px;font-size:6.36px;line-height:8.27px;color:#6b6b6b;font-weight:400;letter-spacing:0.003px;">View your analytics data for the past 30 days.</div>
<div class="t" style="right:398.75px;top:228px;font-size:6.0px;line-height:7.8px;color:#5f5f5f;font-weight:400;letter-spacing:0.013px;">$8000</div>
<div class="t" style="right:398.75px;top:256px;font-size:6.0px;line-height:7.8px;color:#5f5f5f;font-weight:400;">$6000</div>
<div class="t" style="right:398.75px;top:284px;font-size:6.0px;line-height:7.8px;color:#5f5f5f;font-weight:400;">$4000</div>
<div class="t" style="right:398.75px;top:313px;font-size:6.0px;line-height:7.8px;color:#5f5f5f;font-weight:400;">$2000</div>
<div class="t" style="right:398.75px;top:341px;font-size:6.0px;line-height:7.8px;color:#5f5f5f;font-weight:400;">$0</div>
<div class="b" style="left:639.6px;top:185.4px;width:172.40px;height:221.60px;border-radius:3.5px 3.5px 0 0;border:1px solid #ebebeb;border-bottom:none;box-sizing:border-box;background:#fff"></div>
<div class="t" style="left:650px;top:196px;font-size:9.86px;line-height:12.82px;color:#0a0a0a;font-weight:700;letter-spacing:-0.002px;">Recent Users</div>
<div class="t" style="left:650px;top:210px;font-size:6.3px;line-height:8.19px;color:#6b6b6b;font-weight:400;letter-spacing:-0.063px;">You have 5 registered users.</div>
<div class="b" style="left:650px;top:0px;width:151px;height:407px;overflow:hidden"><div class="t" style="left:6.899999999999977px;top:234px;font-size:6.3px;line-height:8.19px;color:#5a5a5a;font-weight:400;letter-spacing:-0.050px;">User</div>
<div class="t" style="left:94.70000000000005px;top:234px;font-size:6.3px;line-height:8.19px;color:#5a5a5a;font-weight:400;letter-spacing:0.073px;">Status</div>
<div class="t" style="left:138px;top:234px;font-size:6.3px;line-height:8.19px;color:#5a5a5a;font-weight:400;letter-spacing:0.1px;">Role</div>
<div class="b" style="left:0px;top:248.1px;width:151.00px;height:1.00px;background:#eeeeee"></div>
<div class="b" style="left:6.899999999999977px;top:261.7px;width:14.00px;height:14.00px;border-radius:50%;background:#ebebeb"></div>
<div class="t" style="left:24px;top:262px;font-size:6.3px;line-height:8.19px;color:#111;font-weight:400;letter-spacing:0.004px;-webkit-text-stroke:0.1px #111">John Doe</div>
<div class="t" style="left:24px;top:270px;font-size:5.4px;line-height:7.02px;color:#5a5a5a;font-weight:400;letter-spacing:0.006px;">john@example.com</div>
<div class="b" style="left:94.70000000000005px;top:264.25px;width:25.00px;height:9.10px;border-radius:5px;background:#0a0a0a"></div>
<div class="t" style="left:98.70000000000005px;top:266px;font-size:5.7px;line-height:7.41px;color:#fff;font-weight:700;letter-spacing:0.006px;">active</div>
<div class="t" style="left:138px;top:265px;font-size:6.3px;line-height:8.19px;color:#111;font-weight:400;">Admin</div>
<div class="b" style="left:0px;top:288.7px;width:151.00px;height:1.00px;background:#f0f0f0"></div>
<div class="b" style="left:6.899999999999977px;top:302.0px;width:14.00px;height:14.00px;border-radius:50%;background:#ebebeb"></div>
<div class="t" style="left:24px;top:302px;font-size:6.3px;line-height:8.19px;color:#111;font-weight:400;letter-spacing:-0.04px;-webkit-text-stroke:0.1px #111">Jane Smith</div>
<div class="t" style="left:24px;top:310px;font-size:5.4px;line-height:7.02px;color:#5a5a5a;font-weight:400;">jane@example.com</div>
<div class="b" style="left:94.70000000000005px;top:304.55px;width:25.00px;height:9.10px;border-radius:5px;background:#0a0a0a"></div>
<div class="t" style="left:98.70000000000005px;top:306px;font-size:5.7px;line-height:7.41px;color:#fff;font-weight:700;letter-spacing:0.006px;">active</div>
<div class="t" style="left:138px;top:305px;font-size:6.3px;line-height:8.19px;color:#111;font-weight:400;">User</div>
<div class="b" style="left:0px;top:329.4px;width:151.00px;height:1.00px;background:#f0f0f0"></div>
<div class="b" style="left:6.899999999999977px;top:342.1px;width:14.00px;height:14.00px;border-radius:50%;background:#ebebeb"></div>
<div class="t" style="left:24px;top:342px;font-size:6.3px;line-height:8.19px;color:#111;font-weight:400;letter-spacing:-0.04px;-webkit-text-stroke:0.1px #111">Robert Johnson</div>
<div class="t" style="left:24px;top:350px;font-size:5.4px;line-height:7.02px;color:#5a5a5a;font-weight:400;">robert@example.com</div>
<div class="b" style="left:94.70000000000005px;top:344.65000000000003px;width:29.30px;height:9.10px;border-radius:5px;background:#f1f1f1"></div>
<div class="t" style="left:98.70000000000005px;top:346px;font-size:5.7px;line-height:7.41px;color:#111;font-weight:700;">inactive</div>
<div class="t" style="left:138px;top:345px;font-size:6.3px;line-height:8.19px;color:#111;font-weight:400;">User</div>
<div class="b" style="left:0px;top:369.5px;width:151.00px;height:1.00px;background:#f0f0f0"></div>
<div class="b" style="left:6.899999999999977px;top:377.8px;width:14.00px;height:14.00px;border-radius:50%;background:#ebebeb"></div>
<div class="t" style="left:24px;top:378px;font-size:6.3px;line-height:8.19px;color:#111;font-weight:400;letter-spacing:-0.04px;-webkit-text-stroke:0.1px #111">Emily Davis</div>
<div class="t" style="left:24px;top:386px;font-size:5.4px;line-height:7.02px;color:#5a5a5a;font-weight:400;">emily@example.com</div>
<div class="b" style="left:94.70000000000005px;top:380.35px;width:25.00px;height:9.10px;border-radius:5px;background:#0a0a0a"></div>
<div class="t" style="left:98.70000000000005px;top:382px;font-size:5.7px;line-height:7.41px;color:#fff;font-weight:700;letter-spacing:0.006px;">active</div>
<div class="t" style="left:138px;top:381px;font-size:6.3px;line-height:8.19px;color:#111;font-weight:400;">Editor</div>
<div class="b" style="left:0px;top:400.6px;width:151.00px;height:1.00px;background:#f0f0f0"></div>
</div>
</body></html>
